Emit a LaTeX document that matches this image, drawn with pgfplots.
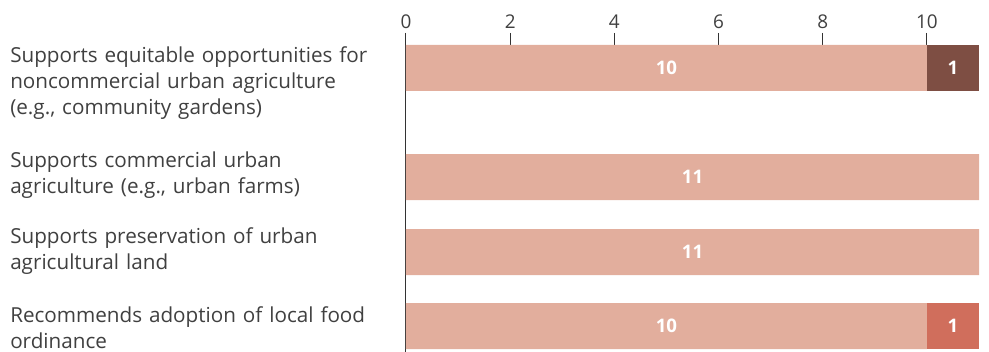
\documentclass[border=0pt]{standalone}
\usepackage{pgfplots}
\pgfplotsset{compat=1.18}
\usepackage{fontspec}
\setmainfont{Open Sans}
\definecolor{cLight}{RGB}{226,174,157}
\definecolor{cDark}{RGB}{126,78,67}
\definecolor{cTerra}{RGB}{208,110,92}
\definecolor{cText}{RGB}{64,64,64}
\definecolor{cAxis}{RGB}{51,51,51}
\pgfplotsset{
  frame/.style={
    at={(0pt,0pt)}, anchor=north west,
    scale only axis, width=429.75pt, height=239.25pt,
    xmin=0, xmax=11, ymin=33, ymax=352, y dir=reverse,
  }
}
\begin{document}
\begin{tikzpicture}
\useasboundingbox (-304.5pt,24.75pt) rectangle (437.25pt,-239.25pt);
\begin{axis}[
  frame,
  axis x line*=top, axis y line*=left,
  x axis line style={draw=none},
  y axis line style={draw=cAxis, line width=0.75pt},
  xtick={0,2,4,6,8,10},
  tick align=inside,
  major tick length=9pt,
  xtick style={draw=cAxis, line width=0.75pt},
  ytick={83,175,251,328},
  ytick style={draw=none},
  yticklabels={
    {Supports equitable opportunities for\\noncommercial urban agriculture\\(e.g., community gardens)},
    {Supports commercial urban\\agriculture (e.g., urban farms)},
    {Supports preservation of urban\\agricultural land},
    {Recommends adoption of local food\\ordinance}},
  yticklabel style={anchor=west, text width=292pt, align=left, inner sep=0pt, xshift=-297pt,
    font=\fontsize{15.5}{19.4}\selectfont, text=cText},
  xticklabel style={font=\fontsize{14.2}{16}\selectfont, text=cText},
  /pgf/number format/assume math mode=true,
  xbar stacked,
  bar width=34.5pt,
]
\addplot[fill=cLight, draw=none] coordinates {(10,68) (11,177) (11,252) (10,326)};
\addplot[fill=cDark, draw=none] coordinates {(1,68) (0,177) (0,252) (0,326)};
\addplot[fill=cTerra, draw=none] coordinates {(0,68) (0,177) (0,252) (1,326)};
\end{axis}
\begin{axis}[
  frame, hide axis, clip=false,
  nodes near coords, point meta=explicit symbolic,
  nodes near coords align={anchor=center},
  every node near coord/.append style={anchor=center, inner sep=0pt,
    font=\bfseries\fontsize{14}{16}\selectfont, text=white},
]
\addplot[draw=none, mark=none] coordinates {(5,68) [10] (10.5,68) [1] (5.5,177) [11] (5.5,252) [11] (5,326) [10] (10.5,326) [1]};
\end{axis}
\end{tikzpicture}
\end{document}
